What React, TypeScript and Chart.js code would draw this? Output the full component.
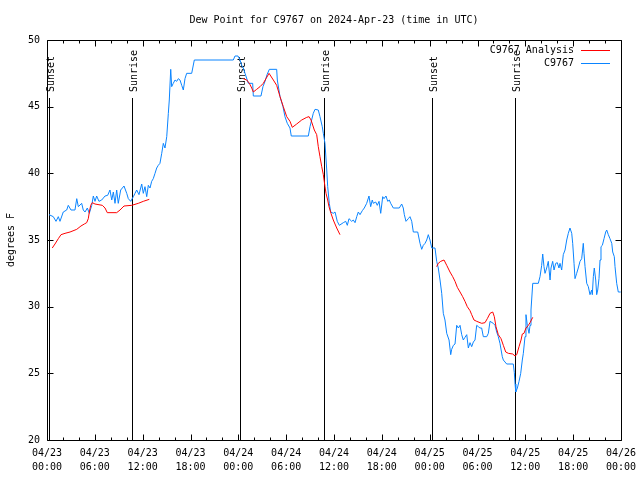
import { useEffect, useRef } from 'react';
import { Chart, registerables } from 'chart.js';
Chart.register(...registerables);

const TITLE = 'Dew Point for C9767 on 2024-Apr-23 (time in UTC)';
const Y_LABEL = 'degrees F';
const dayLabels = ['04/23', '04/24', '04/25', '04/26'];
const hourLabels = ['00:00', '06:00', '12:00', '18:00'];
const yMin = 20;
const yMax = 50;
const yStep = 5;
const xMaxHours = 72;
const xStepHours = 6;
const xMinorHours = 2;

const eventHours = [0.25, 10.7, 24.25, 34.8, 48.35, 58.75];
const eventLabels = ['Sunset', 'Sunrise', 'Sunset', 'Sunrise', 'Sunset', 'Sunrise'];

const seriesLabels = ['C9767 Analysis', 'C9767'];
const seriesColors = ['#ff0000', '#0a84ff'];

const obsHours = [
  0.25, 0.79, 1.13, 1.42, 1.63, 2.04, 2.47, 2.67, 3.01, 3.51, 3.73, 3.93, 4.35, 4.55, 4.77, 5.06, 5.31, 5.61, 5.81, 6.02,
  6.23, 6.52, 6.86, 7.28, 7.61, 7.9, 8.12, 8.32, 8.53, 8.74, 8.94, 9.24, 9.66, 10.0, 10.2, 10.5, 10.83, 11.04, 11.25, 11.54,
  11.88, 12.08, 12.29, 12.51, 12.71, 12.92, 13.13, 13.33, 13.55, 13.76, 13.96, 14.17, 14.39, 14.59, 14.8, 15.02, 15.22, 15.34, 15.52, 15.64,
  15.84, 16.06, 16.27, 16.47, 16.68, 16.9, 17.1, 17.31, 17.52, 18.15, 18.48, 23.37, 23.58, 23.96, 24.21, 24.42, 24.62, 24.84, 25.25, 25.8,
  25.88, 26.84, 27.09, 27.35, 27.6, 27.89, 28.81, 28.89, 29.23, 29.6, 29.85, 30.14, 30.48, 30.64, 32.78, 32.99, 33.4, 33.62, 34.03, 34.24,
  34.53, 34.66, 34.87, 35.09, 35.21, 35.41, 35.59, 35.91, 36.13, 36.41, 36.67, 37.17, 37.47, 37.67, 37.88, 38.22, 38.42, 38.64, 38.85, 39.05,
  39.26, 39.55, 39.8, 40.1, 40.39, 40.6, 40.8, 40.93, 41.23, 41.43, 41.65, 41.86, 42.11, 42.27, 42.52, 42.74, 42.94, 43.11, 43.44, 44.19,
  44.49, 44.69, 44.82, 45.03, 45.32, 45.53, 45.75, 45.95, 46.5, 46.79, 47.0, 47.2, 47.42, 47.63, 47.83, 48.04, 48.26, 48.67, 48.88, 49.08,
  49.3, 49.51, 49.71, 49.92, 50.14, 50.43, 50.64, 50.76, 50.97, 51.18, 51.39, 51.6, 51.81, 52.02, 52.22, 52.43, 52.65, 52.85, 53.06, 53.27,
  53.48, 53.69, 53.9, 54.1, 54.31, 54.52, 54.73, 55.16, 55.36, 55.57, 55.98, 56.2, 56.41, 56.61, 56.82, 57.11, 57.24, 57.66, 58.49, 58.62,
  58.71, 58.8, 59.0, 59.21, 59.42, 59.62, 59.75, 59.96, 60.08, 60.25, 60.46, 60.59, 60.71, 60.93, 61.63, 61.84, 62.05, 62.18, 62.34, 62.47,
  62.68, 62.88, 63.1, 63.22, 63.43, 63.6, 63.81, 64.01, 64.22, 64.35, 64.56, 64.76, 64.98, 65.19, 65.39, 65.6, 65.82, 65.94, 66.11, 66.23,
  66.44, 66.64, 66.86, 67.07, 67.27, 67.36, 67.49, 67.7, 67.9, 68.11, 68.32, 68.4, 68.53, 68.65, 68.83, 68.95, 69.08, 69.24, 69.37, 69.49,
  69.66, 69.87, 70.08, 70.21, 70.41, 70.62, 70.84, 70.96, 71.16, 71.25, 71.46, 71.66, 71.96,
];
const obsValues = [
  36.9, 36.75, 36.4, 36.75, 36.4, 37.1, 37.25, 37.6, 37.25, 37.25, 38.1, 37.5, 37.75, 37.25, 37.1, 37.4, 37.0, 37.6, 38.3, 37.9,
  38.3, 37.9, 38.0, 38.3, 38.35, 38.75, 38.0, 38.6, 37.75, 38.75, 37.75, 38.75, 39.05, 38.5, 38.1, 37.9, 38.25, 38.5, 38.75, 38.4,
  39.2, 38.5, 39.0, 38.25, 39.1, 38.9, 39.4, 39.6, 40.0, 40.4, 40.6, 40.75, 41.5, 42.25, 41.9, 42.75, 44.5, 45.5, 47.8, 46.5,
  46.75, 47.0, 46.9, 47.1, 47.0, 46.6, 46.25, 47.1, 47.5, 47.5, 48.5, 48.5, 48.8, 48.8, 48.5, 48.1, 47.9, 47.5, 46.75, 46.75,
  45.8, 45.8, 46.5, 46.9, 47.4, 47.8, 47.8, 47.0, 45.75, 45.0, 44.25, 43.75, 43.4, 42.8, 42.8, 43.5, 44.5, 44.8, 44.75, 44.25,
  43.5, 43.0, 42.25, 40.25, 39.0, 37.75, 37.1, 37.0, 37.1, 36.4, 36.1, 36.3, 36.4, 36.1, 36.6, 36.4, 36.5, 36.3, 36.75, 37.1,
  36.9, 37.2, 37.4, 37.75, 38.3, 37.5, 38.0, 37.75, 37.85, 37.6, 37.9, 37.0, 38.25, 38.1, 38.3, 37.9, 38.0, 37.75, 37.4, 37.4,
  37.7, 37.4, 36.9, 36.4, 36.6, 36.75, 36.4, 35.6, 35.6, 34.75, 34.3, 34.6, 34.75, 35.0, 35.4, 35.0, 34.4, 34.4, 33.4, 32.9,
  32.0, 31.0, 29.5, 29.0, 28.0, 27.5, 26.4, 26.8, 27.1, 27.2, 28.6, 28.4, 28.6, 27.9, 27.5, 27.7, 27.9, 26.9, 27.3, 27.0,
  27.35, 27.5, 28.6, 28.5, 28.4, 28.4, 27.75, 27.75, 28.0, 28.9, 28.75, 28.6, 28.1, 27.75, 27.25, 26.25, 26.0, 25.7, 25.7, 25.05,
  24.2, 23.6, 23.9, 24.4, 25.0, 26.0, 26.5, 27.75, 29.4, 28.6, 28.0, 28.6, 29.75, 31.75, 31.75, 32.25, 33.1, 33.95, 33.0, 32.5,
  32.9, 33.4, 32.0, 32.9, 33.4, 32.75, 33.25, 33.3, 32.9, 33.25, 32.75, 33.9, 34.25, 35.0, 35.5, 35.9, 35.5, 34.75, 33.25, 32.1,
  32.5, 32.9, 33.4, 33.6, 34.75, 34.0, 33.0, 31.75, 31.5, 30.9, 31.25, 30.9, 32.25, 32.9, 32.0, 30.9, 31.25, 32.1, 33.5, 34.5,
  34.6, 35.1, 35.6, 35.75, 35.4, 35.1, 34.75, 34.1, 33.75, 33.0, 31.75, 31.1, 31.1,
];

const anaHours = [
  0.66, 1.0, 1.42, 1.76, 2.26, 2.89, 3.73, 4.26, 4.68, 4.98, 5.18, 5.31, 5.48, 5.68, 6.02, 6.94, 7.28, 7.56, 8.74, 9.16,
  9.66, 10.62, 11.45, 12.08, 12.83, 18.0,
  24.62, 25.05, 25.38, 25.68, 25.88, 26.3, 26.72, 27.13, 27.47, 27.85, 28.39, 28.81, 29.23, 29.64, 30.07, 30.48, 30.77, 31.32, 31.95, 32.58,
  32.87, 33.12, 33.53, 33.83, 34.03, 34.24, 34.46, 34.66, 34.87, 35.0, 35.21, 35.37, 35.62, 35.91, 36.34, 36.75, 42.0,
  48.88, 49.08, 49.39, 49.8, 50.14, 50.55, 50.89, 51.18, 51.47, 51.81, 52.14, 52.43, 52.72, 53.06, 53.27, 53.56, 53.9, 54.53, 54.94, 55.23,
  55.57, 55.91, 56.11, 56.32, 56.61, 56.95, 57.24, 57.54, 57.87, 58.42, 58.71, 58.92, 59.21, 59.46, 59.62, 59.83, 60.08, 60.38, 60.59, 60.93,
];
const anaValues = [
  34.4, 34.7, 35.1, 35.4, 35.5, 35.6, 35.8, 36.05, 36.2, 36.3, 36.6, 37.1, 37.6, 37.8, 37.7, 37.6, 37.4, 37.05, 37.05, 37.25,
  37.55, 37.6, 37.75, 37.9, 38.05, null,
  47.1, 47.0, 46.75, 46.4, 46.1, 46.3, 46.5, 46.75, 47.1, 47.5, 47.0, 46.6, 45.75, 45.0, 44.25, 43.9, 43.45, 43.7, 44.0, 44.2,
  44.25, 44.0, 43.25, 42.9, 42.0, 41.25, 40.5, 39.9, 39.0, 38.5, 38.0, 37.5, 37.0, 36.5, 35.9, 35.4, null,
  33.0, 33.25, 33.4, 33.5, 33.1, 32.6, 32.25, 31.9, 31.45, 31.1, 30.75, 30.4, 30.0, 29.7, 29.4, 29.0, 28.9, 28.75, 28.8, 29.1,
  29.5, 29.6, 29.25, 28.5, 27.9, 27.6, 27.1, 26.6, 26.5, 26.45, 26.3, 26.4, 27.0, 27.5, 27.95, 28.0, 28.4, 28.6, 28.8, 29.2,
];

const FONT_FAMILY = '"DejaVu Sans Mono", "Liberation Mono", monospace';
const FONT = `10px ${FONT_FAMILY}`;

const overlayPlugin = {
  id: 'gnuOverlay',
  beforeDatasetsDraw(chart: any) {
    const { ctx, chartArea: a, scales } = chart;
    const xs = scales.x;
    ctx.save();
    ctx.strokeStyle = '#000';
    ctx.fillStyle = '#000';
    ctx.lineWidth = 1;
    ctx.font = FONT;
    eventHours.forEach((h, i) => {
      const px = Math.round(xs.getPixelForValue(h)) + 0.5;
      ctx.beginPath();
      ctx.moveTo(px, a.top + 58);
      ctx.lineTo(px, a.bottom);
      ctx.stroke();
      ctx.save();
      ctx.translate(px + 1.5, a.top + 52);
      ctx.rotate(-Math.PI / 2);
      ctx.textAlign = 'left';
      ctx.textBaseline = 'middle';
      ctx.fillText(eventLabels[i], 0, 0);
      ctx.restore();
    });
    ctx.restore();
  },
  afterDraw(chart: any) {
    const { ctx, chartArea: a, scales } = chart;
    const xs = scales.x;
    const ys = scales.y;
    ctx.save();
    ctx.strokeStyle = '#000';
    ctx.fillStyle = '#000';
    ctx.lineWidth = 1;
    const L = Math.round(a.left) + 0.5;
    const R = Math.round(a.right) + 0.5;
    const T = Math.round(a.top) + 0.5;
    const B = Math.round(a.bottom) + 0.5;
    ctx.beginPath();
    ctx.rect(L, T, R - L, B - T);
    ctx.stroke();
    // x ticks (inside, top and bottom)
    ctx.beginPath();
    for (let h = 0; h <= xMaxHours + 1e-6; h += xMinorHours) {
      const px = Math.round(xs.getPixelForValue(h)) + 0.5;
      const len = Math.abs(h % xStepHours) < 1e-6 ? 6 : 3;
      ctx.moveTo(px, B);
      ctx.lineTo(px, B - len);
      ctx.moveTo(px, T);
      ctx.lineTo(px, T + len);
    }
    for (let v = yMin; v <= yMax + 1e-6; v += yStep) {
      const py = Math.round(ys.getPixelForValue(v)) + 0.5;
      ctx.moveTo(L, py);
      ctx.lineTo(L + 6, py);
      ctx.moveTo(R, py);
      ctx.lineTo(R - 6, py);
    }
    ctx.stroke();
    // title
    ctx.font = FONT;
    ctx.textAlign = 'center';
    ctx.textBaseline = 'middle';
    ctx.fillText(TITLE, (a.left + a.right) / 2, 20);
    // y label
    ctx.save();
    ctx.translate(11, (a.top + a.bottom) / 2);
    ctx.rotate(-Math.PI / 2);
    ctx.fillText(Y_LABEL, 0, 0);
    ctx.restore();
    // legend
    chart.data.datasets.forEach((ds: any, i: number) => {
      const y = Math.round(a.top + 10 + i * 12.5) + 0.5;
      ctx.textAlign = 'right';
      ctx.textBaseline = 'middle';
      ctx.fillStyle = '#000';
      ctx.fillText(ds.label, a.right - 47, y);
      ctx.strokeStyle = ds.borderColor;
      ctx.beginPath();
      ctx.moveTo(a.right - 40, y);
      ctx.lineTo(a.right - 11, y);
      ctx.stroke();
    });
    ctx.restore();
  },
};

export default function App() {
  const ref = useRef<HTMLCanvasElement | null>(null);
  useEffect(() => {
    const canvas = ref.current;
    if (!canvas) return;
    const ana = anaHours.map((h, i) => ({ x: h, y: anaValues[i] }));
    const obs = obsHours.map((h, i) => ({ x: h, y: obsValues[i] }));
    const chart = new Chart(canvas, {
      type: 'line',
      data: {
        datasets: [
          {
            label: seriesLabels[0],
            data: ana as any,
            borderColor: seriesColors[0],
            backgroundColor: seriesColors[0],
            borderWidth: 1,
            pointRadius: 0,
            spanGaps: false,
            tension: 0,
          },
          {
            label: seriesLabels[1],
            data: obs as any,
            borderColor: seriesColors[1],
            backgroundColor: seriesColors[1],
            borderWidth: 1,
            pointRadius: 0,
            tension: 0,
          },
        ],
      },
      options: {
        animation: false,
        responsive: false,
        devicePixelRatio: 1,
        events: [],
        layout: { padding: { top: 40, right: 19, left: 0, bottom: 0 } },
        plugins: {
          legend: { display: false },
          title: { display: false },
          tooltip: { enabled: false },
        },
        scales: {
          x: {
            type: 'linear',
            min: 0,
            max: xMaxHours,
            grid: { display: false, drawTicks: false },
            border: { display: false },
            afterFit: (s: any) => {
              s.height = 40;
              s.paddingLeft = 0;
              s.paddingRight = 0;
            },
            ticks: {
              stepSize: xStepHours,
              autoSkip: false,
              maxRotation: 0,
              minRotation: 0,
              padding: 6,
              color: '#000',
              font: { family: FONT_FAMILY, size: 10, lineHeight: 1.4 },
              callback: (value: any) => {
                const v = Number(value);
                const day = Math.floor(v / 24 + 1e-9);
                const hr = Math.round((v - day * 24) / xStepHours);
                return [dayLabels[day], hourLabels[hr]];
              },
            },
          },
          y: {
            type: 'linear',
            min: yMin,
            max: yMax,
            grid: { display: false, drawTicks: false },
            border: { display: false },
            afterFit: (s: any) => {
              s.width = 47;
            },
            ticks: {
              stepSize: yStep,
              padding: 7,
              color: '#000',
              font: { family: FONT_FAMILY, size: 10 },
            },
          },
        },
      },
      plugins: [overlayPlugin],
    });
    return () => chart.destroy();
  }, []);
  return (
    <div style={{ position: 'fixed', left: 0, top: 0, width: 640, height: 480, background: '#fff' }}>
      <canvas ref={ref} width={640} height={480} style={{ width: 640, height: 480, display: 'block' }} />
    </div>
  );
}
